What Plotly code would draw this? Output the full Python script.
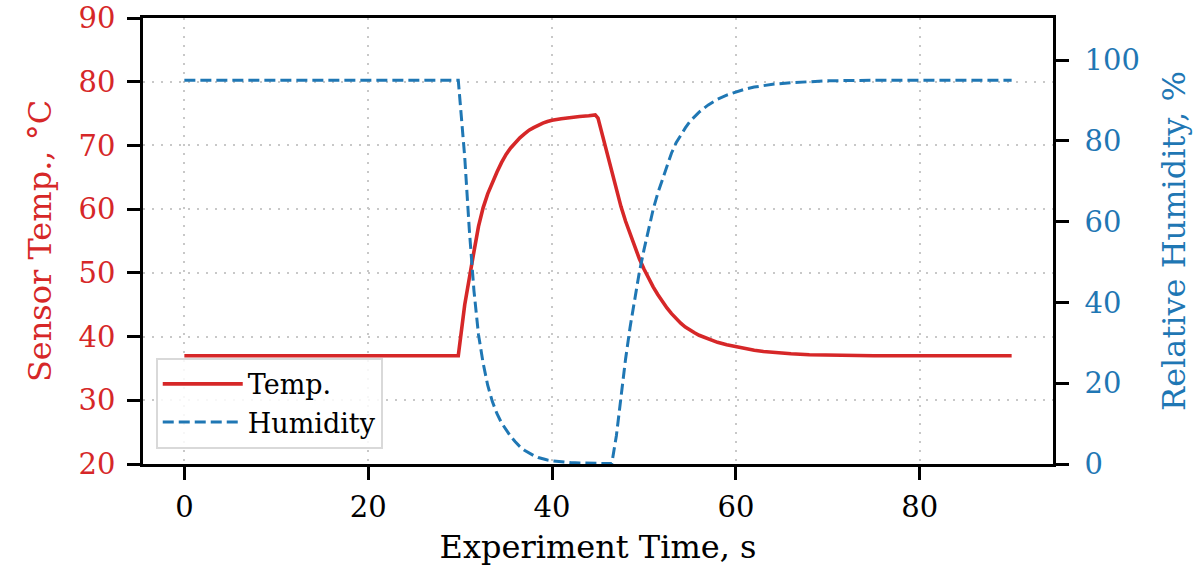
import plotly.graph_objects as go

# Time samples (s)
time_s = [0, 10, 20, 29.8, 30.5, 31.0, 31.5, 32.0, 32.5, 33.0, 33.5, 34.0, 34.5, 35.0,
          35.5, 36.0, 36.5, 37.0, 37.5, 38.0, 38.5, 39.0, 39.5, 40.0, 41.0, 42.0, 43.0,
          44.0, 44.7, 45.0, 45.5, 46.0, 46.5, 47.0, 47.5, 48.0, 48.5, 49.0, 49.5, 50.0,
          50.5, 51.0, 51.5, 52.0, 52.5, 53.0, 53.5, 54.0, 54.5, 55.0, 55.5, 56.0, 57.0,
          58.0, 59.0, 60.0, 61.0, 62.0, 63.0, 64.0, 66.0, 68.0, 70.0, 75.0, 80.0, 90.0]

# Sensor temperature (°C)
temp_c = [37.0, 37.0, 37.0, 37.0, 45.0, 49.5, 53.3, 57.3, 60.2, 62.4, 64.2, 65.8, 67.3, 68.6,
          69.6, 70.5, 71.2, 71.8, 72.4, 72.8, 73.2, 73.5, 73.75, 73.95, 74.2, 74.4, 74.55,
          74.65, 74.8, 74.3, 71.5, 68.6, 65.6, 62.9, 60.4, 58.1, 56.0, 54.0, 52.2, 50.6,
          49.1, 47.8, 46.6, 45.5, 44.5, 43.6, 42.8, 42.1, 41.5, 41.0, 40.6, 40.2, 39.6,
          39.1, 38.7, 38.4, 38.1, 37.85, 37.65, 37.5, 37.3, 37.15, 37.1, 37.0, 37.0, 37.0]

# Relative humidity (%)
humidity_pct = [95.0, 95.0, 95.0, 95.0, 76.0, 58.0, 43.0, 32.0, 25.0, 19.5, 15.5, 12.5, 10.2, 8.4,
                6.8, 5.5, 4.3, 3.4, 2.7, 2.1, 1.6, 1.25, 1.0, 0.8, 0.5, 0.35, 0.25,
                0.2, 0.15, 0.15, 0.1, 0.1, 0.1, 7.0, 17.0, 26.0, 34.0, 41.0, 47.5, 53.0,
                58.0, 63.0, 67.0, 70.5, 74.0, 77.0, 79.5, 81.5, 83.2, 84.8, 86.0, 87.1, 88.9,
                90.3, 91.3, 92.1, 92.8, 93.3, 93.7, 94.0, 94.4, 94.7, 94.85, 95.0, 95.0, 95.0]

x_ticks = [0, 20, 40, 60, 80]
temp_ticks = [20, 30, 40, 50, 60, 70, 80, 90]
hum_ticks = [0, 20, 40, 60, 80, 100]

RED = "#d62728"
BLUE = "#1f77b4"
FONT = "DejaVu Serif"
TICK_FS = 29
TITLE_FS = 32
LEG_FS = 27

fig = go.Figure()
fig.add_trace(go.Scatter(x=time_s, y=temp_c, mode="lines", name="Temp.",
                         line=dict(color=RED, width=3.6)))
fig.add_trace(go.Scatter(x=time_s, y=humidity_pct, mode="lines", name="Humidity",
                         line=dict(color=BLUE, width=3, dash="11px,5px"), yaxis="y2"))

GRID = dict(showgrid=True, gridcolor="#c8c8c8", gridwidth=2.2, griddash="2px,7px")

fig.update_layout(
    width=1200, height=573,
    margin=dict(l=143, r=147, t=18, b=109, autoexpand=False),
    paper_bgcolor="white", plot_bgcolor="white",
    font=dict(family=FONT, size=TICK_FS, color="black"),
    showlegend=True,
    legend=dict(x=0.014, y=0.034, xanchor="left", yanchor="bottom",
                bgcolor="rgba(255,255,255,0.85)", bordercolor="#d9d9d9", borderwidth=2,
                font=dict(family=FONT, size=LEG_FS, color="black"),
                itemwidth=80, tracegroupgap=2),
    xaxis=dict(range=[-4.5, 94.5], tickvals=x_ticks, ticks="outside", ticklen=13, tickwidth=2.5,
               tickcolor="black", showline=True, linecolor="black", linewidth=2.5, mirror=True,
               zeroline=False, ticklabelstandoff=2, automargin=False,
               tickfont=dict(size=TICK_FS, color="black"),
               title=dict(text="Experiment Time, s", font=dict(family=FONT, size=TITLE_FS),
                          standoff=14), **GRID),
    yaxis=dict(range=[20, 90], tickvals=temp_ticks, ticks="outside", ticklen=13, tickwidth=2.5,
               tickcolor="black", showline=True, linecolor="black", linewidth=2.5, mirror=True,
               zeroline=False, tickfont=dict(color=RED, size=TICK_FS), ticklabelstandoff=6,
               automargin=False,
               title=dict(text="Sensor Temp., °C", font=dict(family=FONT, size=TITLE_FS, color=RED),
                          standoff=18), **GRID),
    yaxis2=dict(range=[0, 110.4], tickvals=hum_ticks, overlaying="y", side="right",
                ticks="outside", ticklen=13, tickwidth=2.5, tickcolor="black",
                showline=True, linecolor="black", linewidth=2.5, showgrid=False, zeroline=False,
                tickfont=dict(color=BLUE, size=TICK_FS), ticklabelstandoff=10, automargin=False,
                title=dict(text="Relative Humidity, %", font=dict(family=FONT, size=TITLE_FS, color=BLUE),
                           standoff=24)),
)

fig.write_html("out.html")
